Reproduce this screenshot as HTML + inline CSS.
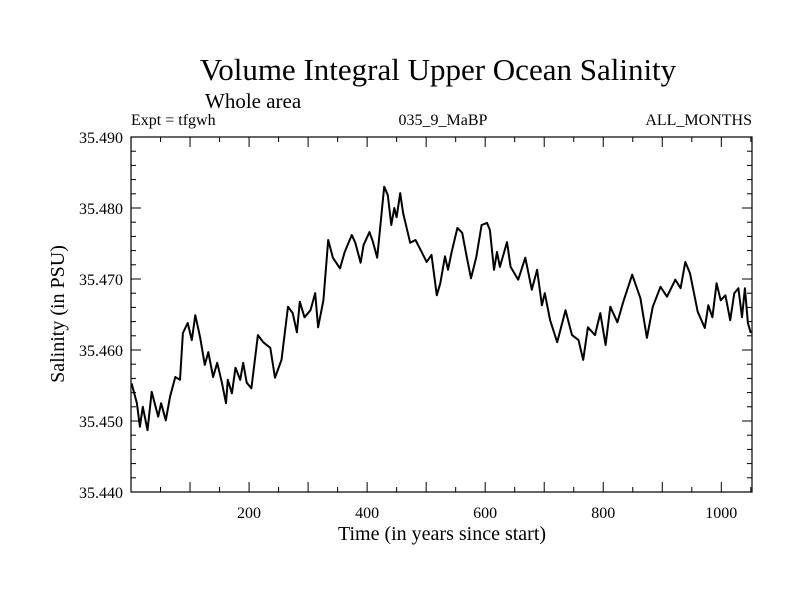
<!DOCTYPE html>
<html><head><meta charset="utf-8"><style>
html,body{margin:0;padding:0;background:#fff;}
svg{display:block;font-family:"Liberation Serif",serif;}
</style></head><body>
<svg id="chart" width="800" height="600">
<text x="438" y="80" font-size="31" text-anchor="middle">Volume Integral Upper Ocean Salinity</text>
<text x="205" y="108" font-size="21">Whole area</text>
<text x="131" y="125" font-size="16">Expt = tfgwh</text>
<text x="443" y="125" font-size="16" text-anchor="middle">035_9_MaBP</text>
<text x="752" y="125" font-size="16" text-anchor="end">ALL_MONTHS</text>
<text x="442" y="540" font-size="20" text-anchor="middle">Time (in years since start)</text>
<text transform="translate(64,314) rotate(-90)" font-size="20" text-anchor="middle">Salinity (in PSU)</text>
<g id="axes"></g>
<rect x="131" y="137" width="621" height="355" fill="none" stroke="#000" stroke-width="1.2"/>
</svg>
<script>
const years=[1,10,15,20,28,35,46,51,59,66,75,83,88,96,103,109,117,125,131,139,146,154,161,164,171,177,185,190,196,204,215,224,236,244,255,266,274,281,286,294,304,312,317,326,334,342,354,362,374,380,389,394,404,410,417,429,435,441,446,450,456,461,473,482,493,501,509,518,524,532,537,543,553,561,569,576,585,594,603,608,615,620,625,637,643,656,668,679,688,696,701,710,722,736,747,758,766,774,786,795,804,812,824,834,849,863,874,884,897,908,922,931,939,947,960,972,978,985,992,999,1007,1015,1022,1029,1035,1040,1045,1050];
const salinity=[35.4553,35.4525,35.4492,35.4520,35.4487,35.4541,35.4506,35.4525,35.4501,35.4534,35.4562,35.4558,35.4624,35.4638,35.4614,35.4649,35.4618,35.4579,35.4597,35.4562,35.4582,35.4554,35.4525,35.4558,35.4539,35.4575,35.4558,35.4582,35.4554,35.4546,35.4621,35.4611,35.4603,35.4561,35.4586,35.4661,35.4652,35.4625,35.4668,35.4646,35.4656,35.4680,35.4632,35.4670,35.4755,35.4730,35.4715,35.4738,35.4762,35.4751,35.4723,35.4748,35.4766,35.4752,35.4730,35.4830,35.4818,35.4776,35.4800,35.4787,35.4821,35.4793,35.4751,35.4755,35.4737,35.4724,35.4734,35.4677,35.4694,35.4732,35.4713,35.4737,35.4772,35.4765,35.4730,35.4701,35.4731,35.4776,35.4779,35.4769,35.4713,35.4738,35.4717,35.4752,35.4717,35.4699,35.4730,35.4685,35.4713,35.4663,35.4680,35.4642,35.4611,35.4656,35.4621,35.4614,35.4586,35.4632,35.4621,35.4652,35.4607,35.4661,35.4639,35.4668,35.4706,35.4673,35.4617,35.4661,35.4689,35.4675,35.4699,35.4687,35.4724,35.4708,35.4654,35.4631,35.4663,35.4646,35.4694,35.4670,35.4677,35.4642,35.4680,35.4687,35.4646,35.4687,35.4638,35.4624];
const xTicks=[200,400,600,800,1000];
const yTicks=["35.440","35.450","35.460","35.470","35.480","35.490"];
const X0=131,X1=752,Y0=492,Y1=137,xMin=0,xMax=1052,yMin=35.44,yMax=35.49;
function sx(v){return X0+(v-xMin)/(xMax-xMin)*(X1-X0);}
function sy(v){return Y0-(v-yMin)/(yMax-yMin)*(Y0-Y1);}
const NS="http://www.w3.org/2000/svg";
const g=document.getElementById('axes');
function ln(x1,y1,x2,y2,name){const l=document.createElementNS(NS,'line');
l.setAttribute('x1',x1);l.setAttribute('y1',y1);l.setAttribute('x2',x2);l.setAttribute('y2',y2);
l.setAttribute('stroke','#000');l.setAttribute('stroke-width','1');


g.appendChild(l);}
function tx(x,y,s,anchor,name){const t=document.createElementNS(NS,'text');
t.setAttribute('x',x);t.setAttribute('y',y);t.setAttribute('font-size','16');t.setAttribute('text-anchor',anchor);t.textContent=s;


g.appendChild(t);}
for(let v=50;v<xMax;v+=50){const x=sx(v);const L=(v%100===0)?10:5;
ln(x,Y0,x,Y0-L,'x-tick');ln(x,Y1,x,Y1+L,'x-tick-top');}
xTicks.forEach(v=>tx(sx(v),518,String(v),'middle','x-tick-label'));
for(let i=0;i<=25;i++){const v=yMin+i*0.002;const y=sy(v);const L=(i%5===0)?10:5;
ln(X0,y,X0+L,y,'y-tick');ln(X1,y,X1-L,y,'y-tick-right');}
yTicks.forEach(s=>tx(123,sy(parseFloat(s))+6,s,'end','y-tick-label'));
let d='';years.forEach((v,i)=>{d+=(i?'L':'M')+sx(v).toFixed(1)+','+sy(salinity[i]).toFixed(1);});
const p=document.createElementNS(NS,'path');
p.setAttribute('d',d);p.setAttribute('fill','none');p.setAttribute('stroke','#000');p.setAttribute('stroke-width','2');p.setAttribute('stroke-linejoin','round');


g.appendChild(p);
</script>
</body></html>
